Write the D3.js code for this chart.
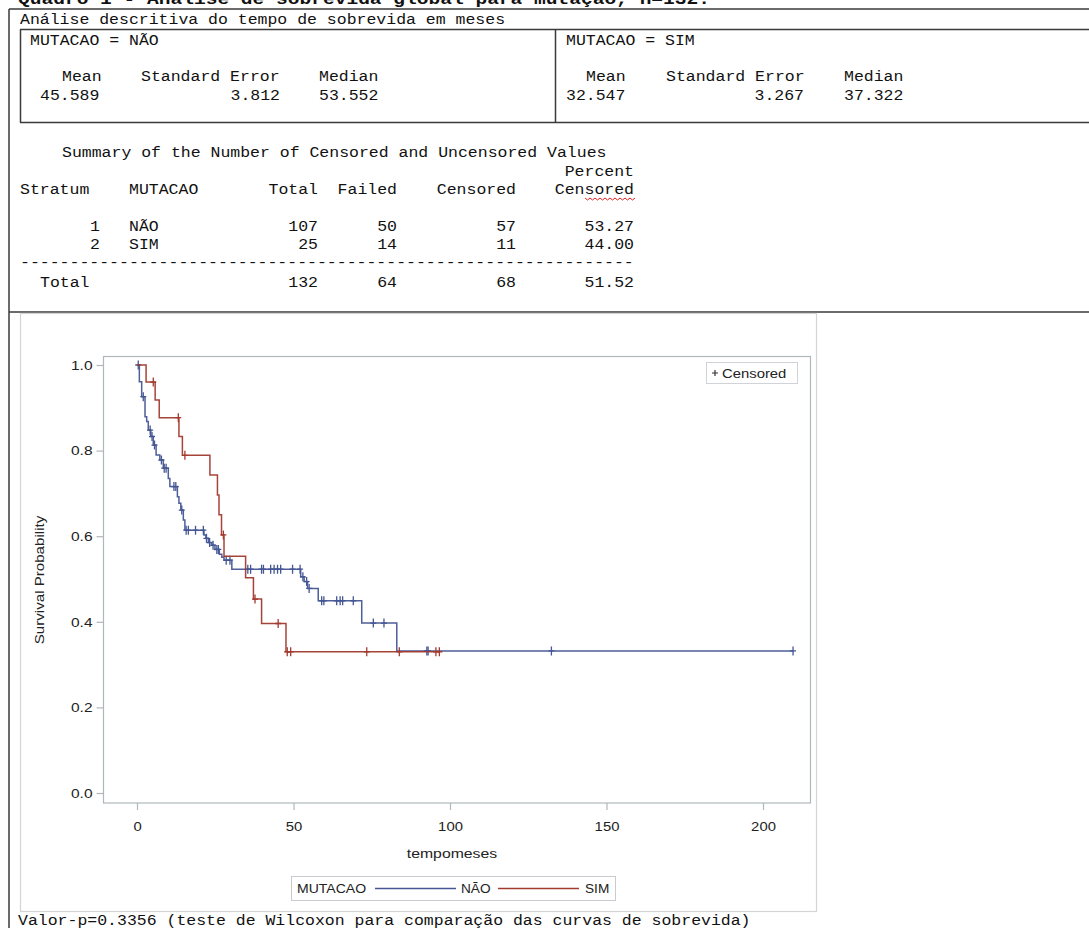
<!DOCTYPE html>
<html><head><meta charset="utf-8">
<script src="https://cdn.jsdelivr.net/npm/d3@7"></script>
<style>body{margin:0;background:#fff;overflow:hidden} svg{display:block}</style>
</head><body>
<svg id="c" width="1089" height="928"></svg>
<script>
// ---------- DATA ----------
const groups = ["NÃO", "SIM"];
const colors = ["#445694", "#A23A2E"];
// Kaplan-Meier step points [time, survival]
const stepsNao = [[0,1],[0.75,0.961],[1.5,0.926],[2.56,0.879],[3.1,0.868],[3.6,0.848],[4.4,0.833],[5.2,0.813],[6.1,0.790],[7.3,0.778],[8.4,0.759],[10.0,0.735],[10.5,0.716],[12.9,0.692],[13.4,0.677],[14.0,0.661],[14.8,0.638],[15.3,0.614],[21.4,0.603],[22.0,0.595],[22.8,0.585],[23.9,0.579],[24.9,0.569],[26.3,0.558],[27.1,0.551],[27.8,0.544],[30.3,0.523],[52.3,0.505],[53.4,0.494],[54.5,0.478],[57.9,0.449],[71.8,0.397],[83.0,0.332]];
const endNao = 209.6;
const censNao = [0.4,2.0,4.2,4.8,5.6,7.8,8.7,9.3,11.8,12.4,14.3,15.7,16.4,18.7,21.2,22.2,23.2,24.3,25.5,26.0,28.5,29.7,35.4,36.3,39.8,40.4,42.7,43.8,44.9,45.9,49.7,52.1,53.0,54.2,55.0,59.0,59.7,63.8,64.9,65.7,69.1,75.5,78.9,92.6,93.0,132.4,209.6];
const stepsSim = [[0,1],[2.9,0.96],[5.8,0.918],[7.1,0.877],[13.4,0.833],[14.5,0.789],[23.3,0.743],[25.7,0.696],[26.2,0.650],[27.0,0.603],[27.8,0.553],[34.7,0.503],[37.2,0.453],[39.8,0.396],[47.6,0.330]];
const endSim = 96.6;
const censSim = [5.2,13.2,15.3,27.6,37.7,45.1,48.0,49.1,73.4,83.8,95.5,96.6];
const yTicks = [0, 0.2, 0.4, 0.6, 0.8, 1.0];
const xTicks = [0, 50, 100, 150, 200];

const titleText = "Quadro 1 - Análise de sobrevida global para mutação, n=132.";
const sectionText = "Análise descritiva do tempo de sobrevida em meses";
const statsHeader = ["Mean", "Standard Error", "Median"];
const statsNao = ["45.589", "3.812", "53.552"];
const statsSim = ["32.547", "3.267", "37.322"];
const summaryTitle = "Summary of the Number of Censored and Uncensored Values";
const sumHeader = ["Stratum", "MUTACAO", "Total", "Failed", "Censored", "Censored"];
const sumRows = [["1", "NÃO", "107", "50", "57", "53.27"], ["2", "SIM", "25", "14", "11", "44.00"]];
const sumTotal = ["Total", "132", "64", "68", "51.52"];
const pText = "Valor-p=0.3356 (teste de Wilcoxon para comparação das curvas de sobrevida)";

// ---------- DRAW ----------
const svg = d3.select("#c");
const MONO = "'Liberation Mono','Courier New',monospace";
const SANS = "'Liberation Sans',Arial,Helvetica,sans-serif";
const SX = 1.1786;
const axisCol = "#B0B7BB";

function mono(x, y, s, anchor, o = {}) {
  const t = svg.append("text")
    .attr("transform", `translate(${x},${y}) scale(${SX},1)`)
    .attr("font-family", MONO).attr("font-size", o.size || 14)
    .attr("fill", "#111").attr("text-anchor", anchor || "start")
    .style("white-space", "pre").text(s);
  if (o.bold) t.attr("font-weight", "bold");
  return t;
}
function sans(x, y, s, anchor, o = {}) {
  return svg.append("text")
    .attr("transform", `translate(${x},${y}) ${o.rot ? "rotate(-90)" : ""} scale(${o.sx || 1.17},1)`)
    .attr("font-family", SANS).attr("font-size", o.size || 12)
    .attr("fill", o.fill || "#222").attr("text-anchor", anchor || "start")
    .style("white-space", "pre").text(s);
}
function hline(x1, x2, yy, c = "#3a3a3a", w = 1.5) {
  svg.append("line").attr("x1", x1).attr("x2", x2).attr("y1", yy).attr("y2", yy).attr("stroke", c).attr("stroke-width", w);
}
function vline(xx, y1, y2, c = "#3a3a3a", w = 1.5) {
  svg.append("line").attr("x1", xx).attr("x2", xx).attr("y1", y1).attr("y2", y2).attr("stroke", c).attr("stroke-width", w);
}

// Title (cut at top, as in the reference)
mono(18, 4, titleText, "start", { size: 16.6, bold: true });

// Table borders
hline(9, 1089, 9);
vline(9, 9, 928);
hline(20, 1089, 29.5);
hline(20, 1089, 122.5);
vline(20.5, 29.5, 122.5);
vline(555.5, 29.5, 122.5);
hline(9, 1089, 312);

mono(20, 24, sectionText);
mono(30, 45, "MUTACAO = " + groups[0]);
mono(566, 45, "MUTACAO = " + groups[1]);
// NÃO stats
mono(62, 81, statsHeader[0]); mono(141, 81, statsHeader[1]); mono(319, 81, statsHeader[2]);
mono(40, 100, statsNao[0]); mono(280, 100, statsNao[1], "end"); mono(319, 100, statsNao[2]);
// SIM stats
mono(586, 81, statsHeader[0]); mono(666, 81, statsHeader[1]); mono(844, 81, statsHeader[2]);
mono(566, 100, statsSim[0]); mono(804, 100, statsSim[1], "end"); mono(844, 100, statsSim[2]);

// Summary
mono(62, 157, summaryTitle);
mono(634, 176, "Percent", "end");
const colEnds = [100, null, 318, 397, 516, 634];
mono(20, 194, sumHeader[0]); mono(129, 194, sumHeader[1]);
for (let i = 2; i < 6; i++) mono(colEnds[i], 194, sumHeader[i], "end");
// spell-check wavy underline
(function () {
  let d = "M585,198"; for (let xx = 585, k = 0; xx < 634; xx += 2.5, k++) d += ` L${xx + 2.5},${k % 2 ? 198 : 200}`;
  svg.append("path").attr("d", d).attr("fill", "none").attr("stroke", "#e02020").attr("stroke-width", 1);
})();
sumRows.forEach((r, j) => {
  const yy = 231 + j * 18;
  mono(100, yy, r[0], "end"); mono(129, yy, r[1]);
  for (let i = 2; i < 6; i++) mono(colEnds[i], yy, r[i], "end");
});
mono(20, 267, "-".repeat(62));
mono(40, 287, sumTotal[0]);
for (let i = 1; i < 5; i++) mono(colEnds[i + 1], 287, sumTotal[i], "end");

// Plot image border
svg.append("rect").attr("x", 20.5).attr("y", 313.5).attr("width", 796).attr("height", 598)
  .attr("fill", "none").attr("stroke", "#D4D4D4").attr("stroke-width", 1.2);

// Scales
const x = d3.scaleLinear().domain([0, 200]).range([137, 763]);
const y = d3.scaleLinear().domain([0, 1]).range([793, 365]);

// frame
svg.append("rect").attr("x", 103.5).attr("y", 356.5).attr("width", 707).attr("height", 446.5)
  .attr("fill", "none").attr("stroke", axisCol).attr("stroke-width", 1.2);

// axes
const gy = svg.append("g").attr("transform", "translate(103.5,0)")
  .call(d3.axisLeft(y).tickValues(yTicks).tickFormat(d3.format(".1f")).tickSize(7).tickPadding(4));
gy.select(".domain").remove();
gy.selectAll("line").attr("stroke", axisCol).attr("stroke-width", 1.2);
gy.selectAll("text").attr("font-family", SANS).attr("font-size", 13.5).attr("fill", "#222")
  .attr("transform", "scale(1.15,1)").attr("x", -11 / 1.15);

const gx = svg.append("g").attr("transform", "translate(0,803)")
  .call(d3.axisBottom(x).tickValues(xTicks).tickFormat(d3.format("d")).tickSize(7).tickPadding(11));
gx.select(".domain").remove();
gx.selectAll("line").attr("stroke", axisCol).attr("stroke-width", 1.2);
gx.selectAll("text").attr("font-family", SANS).attr("font-size", 13.5).attr("fill", "#222")
  .attr("transform", "scale(1.1,1)");

sans(452, 858, "tempomeses", "middle", { size: 13.5, sx: 1.17 });
sans(44, 580, "Survival Probability", "middle", { size: 13.5, sx: 1.12, rot: true });

// curves
const line = d3.line().x(d => x(d[0])).y(d => y(d[1])).curve(d3.curveStepAfter);
function level(steps, t) { let s = steps[0][1]; for (const p of steps) if (p[0] <= t) s = p[1]; return s; }
const series = [
  { steps: stepsNao, end: endNao, cens: censNao, color: colors[0] },
  { steps: stepsSim, end: endSim, cens: censSim, color: colors[1] }
];
series.forEach(s => {
  const pts = s.steps.concat([[s.end, s.steps[s.steps.length - 1][1]]]);
  svg.append("path").attr("d", line(pts)).attr("fill", "none")
    .attr("stroke", s.color).attr("stroke-width", 1.5).attr("opacity", 0.95);
  svg.append("g").selectAll("path").data(s.cens).join("path")
    .attr("d", t => { const cx = x(t), cy = y(level(s.steps, t)); return `M${cx - 3},${cy}H${cx + 3}M${cx},${cy - 4.5}V${cy + 4.5}`; })
    .attr("stroke", s.color).attr("stroke-width", 1.3).attr("fill", "none");
});

// Censored legend (inside)
svg.append("rect").attr("x", 706.5).attr("y", 362.5).attr("width", 91).attr("height", 21)
  .attr("fill", "#fff").attr("stroke", "#D0D4D8").attr("stroke-width", 1);
svg.append("path").attr("d", "M712,373H718M715,370V376").attr("stroke", "#333").attr("stroke-width", 1.2);
sans(722, 378, "Censored", "start", { size: 13.5, sx: 1.1 });

// Bottom legend
svg.append("rect").attr("x", 291.5).attr("y", 876.5).attr("width", 324).attr("height", 24)
  .attr("fill", "#fff").attr("stroke", "#C8CCD0").attr("stroke-width", 1);
sans(297, 893, "MUTACAO", "start", { size: 13, sx: 1.08 });
svg.append("line").attr("x1", 375).attr("x2", 456).attr("y1", 888.5).attr("y2", 888.5).attr("stroke", colors[0]).attr("stroke-width", 1.4);
sans(461, 893, groups[0], "start", { size: 13, sx: 1.05 });
svg.append("line").attr("x1", 498).attr("x2", 579).attr("y1", 888.5).attr("y2", 888.5).attr("stroke", colors[1]).attr("stroke-width", 1.4);
sans(585, 893, groups[1], "start", { size: 13, sx: 1.05 });

// p-value footer
mono(18, 925, pText);
</script>
</body></html>
